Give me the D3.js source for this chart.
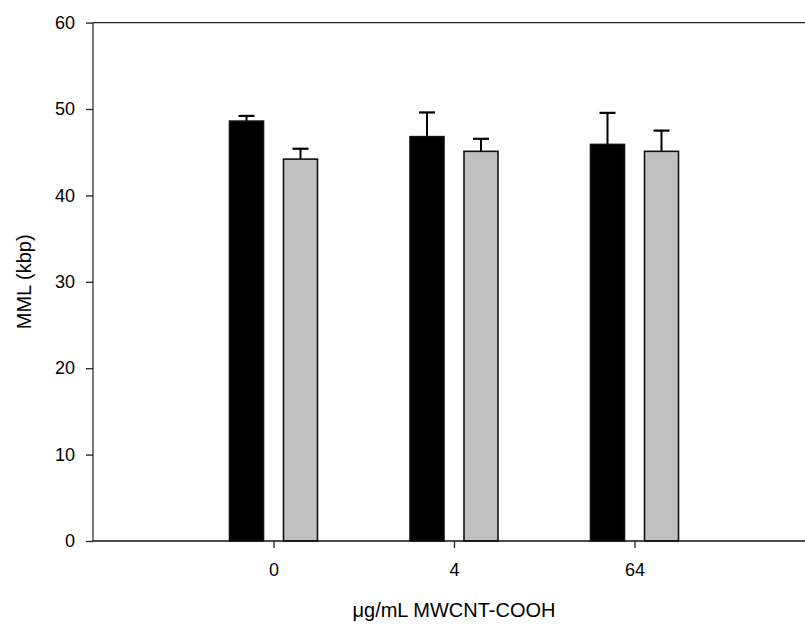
<!DOCTYPE html>
<html><head><meta charset="utf-8">
<script src="https://cdn.jsdelivr.net/npm/d3@7"></script>
<style>body{margin:0;background:#fff}svg{display:block}text{font-family:"Liberation Sans",Arial,sans-serif}</style>
</head><body>
<svg id="c" width="805" height="628"></svg>
<script>
const categories = ["0", "4", "64"];
const seriesA = [48.6, 46.8, 45.9];   // black bars
const errA    = [0.6, 2.8, 3.65];
const seriesB = [44.2, 45.1, 45.1];   // gray bars
const errB    = [1.2, 1.45, 2.4];
const yTicks  = [0, 10, 20, 30, 40, 50, 60];

(function () {
const svg = d3.select("#c");
const mLeft = 93, mRight = 815, mTop = 22.6, mBottom = 541;
const x = d3.scaleLinear().domain([-1, categories.length]).range([mLeft, mRight]);
const y = d3.scaleLinear().domain([0, 60]).range([mBottom, mTop]);
const barW = 34, off = 27;

// top frame line
svg.append("line").attr("x1", mLeft).attr("x2", 805).attr("y1", y(60)).attr("y2", y(60))
  .attr("stroke", "#222").attr("stroke-width", 1.3);

const series = [
  {vals: seriesA, errs: errA, fill: "#000", dx: -off},
  {vals: seriesB, errs: errB, fill: "#c0c0c0", dx: off}
];
series.forEach(s => {
  const g = svg.append("g");
  s.vals.forEach((v, i) => {
    const cx = x(i) + s.dx;
    g.append("line").attr("x1", cx).attr("x2", cx).attr("y1", y(v)).attr("y2", y(v + s.errs[i]))
      .attr("stroke", "#000").attr("stroke-width", 2);
    g.append("line").attr("x1", cx - 8).attr("x2", cx + 8).attr("y1", y(v + s.errs[i])).attr("y2", y(v + s.errs[i]))
      .attr("stroke", "#000").attr("stroke-width", 2.2);
  });
  g.selectAll("rect").data(s.vals).join("rect")
    .attr("x", (d, i) => x(i) + s.dx - barW / 2)
    .attr("y", d => y(d))
    .attr("width", barW)
    .attr("height", d => mBottom - y(d))
    .attr("fill", s.fill)
    .attr("stroke", "#111").attr("stroke-width", 1.6);
});

// y axis
const yAxis = svg.append("g").attr("transform", `translate(${mLeft},0)`)
  .call(d3.axisLeft(y).tickValues(yTicks).tickSize(7).tickPadding(11).tickFormat(d3.format("d")));
yAxis.select(".domain").attr("stroke", "#333").attr("stroke-width", 1.3).attr("d", `M0,${mTop}V${mBottom}`);
yAxis.selectAll(".tick line").attr("stroke", "#222").attr("stroke-width", 1.3);
yAxis.selectAll("text").attr("font-size", 18).attr("fill", "#000");

// x axis
const xAxis = svg.append("g").attr("transform", `translate(0,${mBottom})`)
  .call(d3.axisBottom(x).tickValues(categories.map((c, i) => i)).tickSize(7).tickPadding(15)
    .tickFormat(i => categories[i]));
xAxis.select(".domain").attr("stroke", "#111").attr("stroke-width", 1.5).attr("d", `M${mLeft},0H805`);
xAxis.selectAll(".tick line").attr("stroke", "#222").attr("stroke-width", 1.3);
xAxis.selectAll("text").attr("font-size", 18).attr("fill", "#000");

// titles
svg.append("text").attr("transform", `translate(31,${(mTop + mBottom) / 2}) rotate(-90)`)
  .attr("text-anchor", "middle").attr("font-size", 20).text("MML (kbp)");
svg.append("text").attr("x", x(1)).attr("y", 617).attr("text-anchor", "middle")
  .attr("font-size", 20).text("μg/mL MWCNT-COOH");
})();
</script>
</body></html>
